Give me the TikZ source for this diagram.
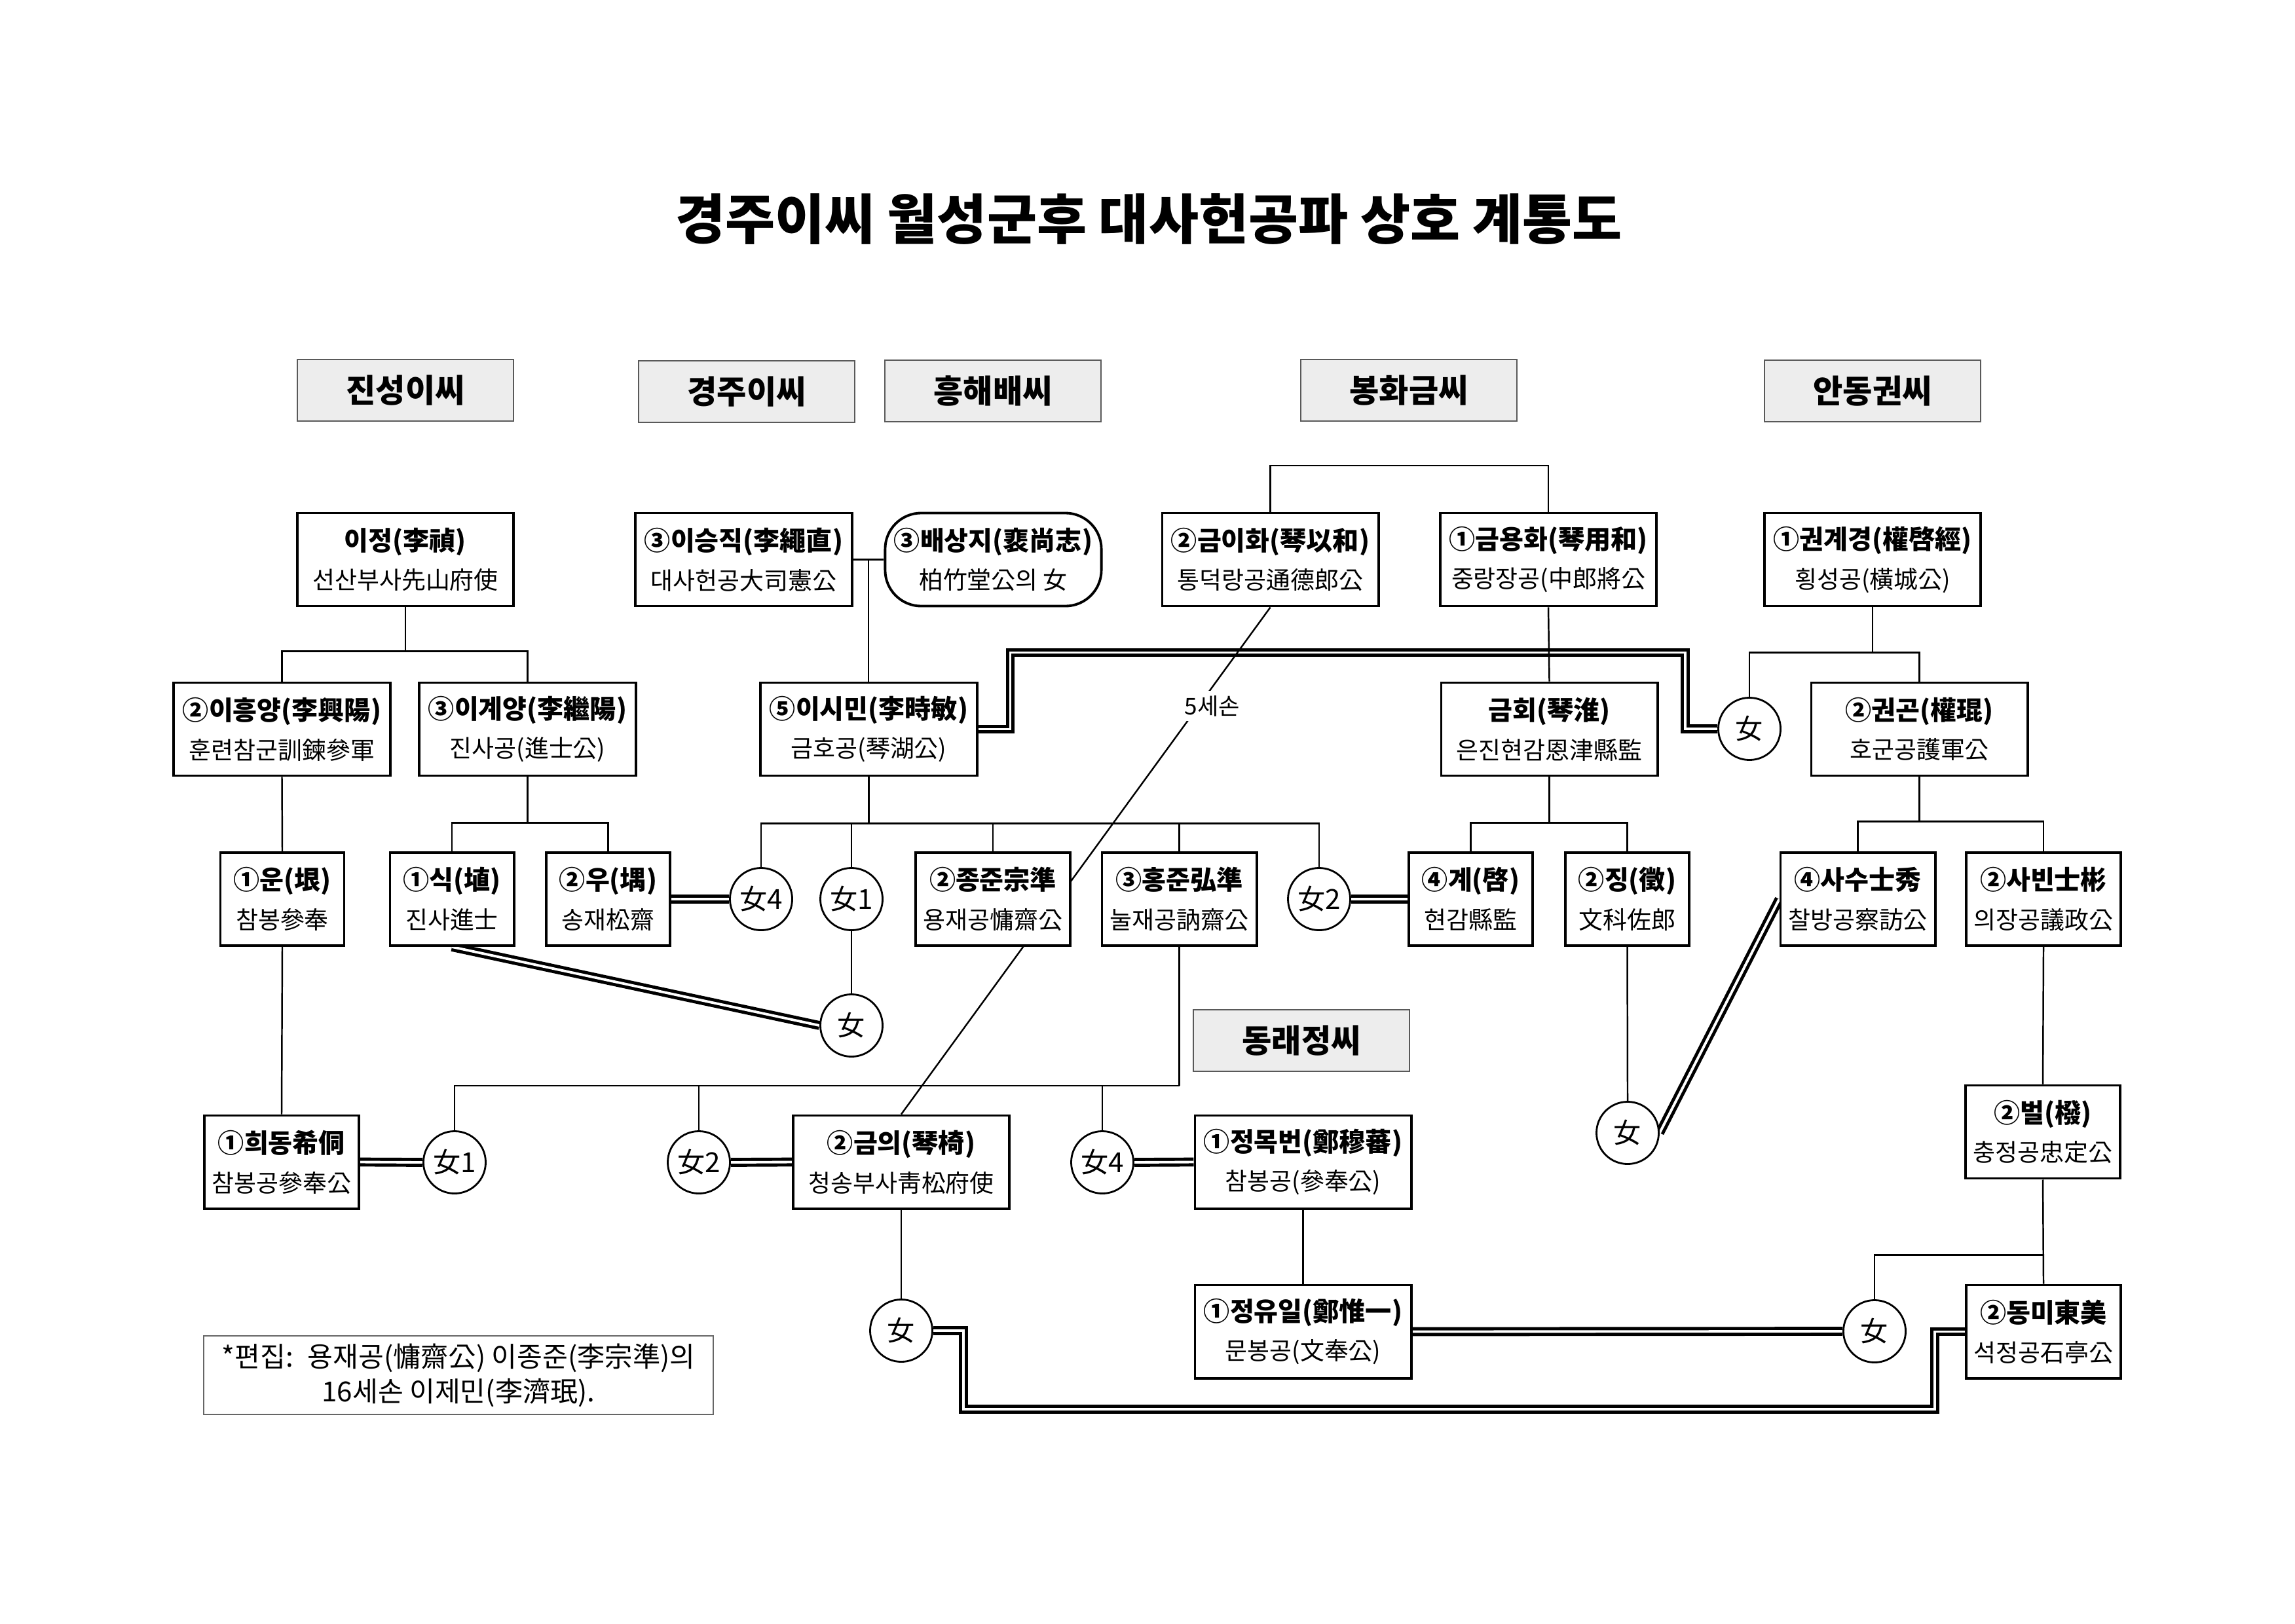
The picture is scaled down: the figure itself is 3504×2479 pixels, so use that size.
\documentclass[tikz,border=0pt]{standalone}
\usepackage{fontspec}
\setmainfont{Noto Sans CJK KR}
\usepackage{tikz}
\usetikzlibrary{positioning,calc,backgrounds}
\newcommand{\who}[2]{{\fontsize{11.4pt}{17pt}\selectfont\bfseries #1}\\{#2}}
\tikzset{
  person/.style={draw, line width=1.1pt, fill=white, align=center, inner sep=1pt,
    minimum height=1.42cm, font=\fontsize{10.5pt}{17pt}\selectfont},
  wide/.style={person, minimum width=3.3cm},
  mid/.style={person, minimum width=2.36cm},
  narrow/.style={person, minimum width=1.89cm},
  fem/.style={circle, draw, line width=0.8pt, fill=white, minimum size=0.95cm, inner sep=0pt,
    font=\fontsize{12pt}{14pt}\selectfont},
  clan/.style={draw=black!65, line width=0.6pt, fill=black!7, minimum width=3.3cm,
    minimum height=0.94cm, font=\fontsize{14pt}{16pt}\selectfont\bfseries},
  kin/.style={line width=0.7pt},
  wed/.style={double, line width=1.4pt, double distance=1.1pt},
  lbl/.style={fill=white, inner sep=2pt, font=\fontsize{10pt}{12pt}\selectfont},
}
\begin{document}
\begin{tikzpicture}[x=0.01cm, y=-0.01cm]
  \useasboundingbox (0,0) rectangle (3504,2479);
  % title
  \node[font=\fontsize{23.5pt}{28pt}\selectfont\bfseries] (title) at (1754,335) {경주이씨 월성군후 대사헌공파 상호 계통도};
  % clans
  \node[clan] (c-jinseong) at (619,596) {진성이씨};
  \node[clan] (c-gyeongju) at (1140,598) {경주이씨};
  \node[clan] (c-heunghae) at (1516,597) {흥해배씨};
  \node[clan] (c-bonghwa) at (2151,596) {봉화금씨};
  \node[clan] (c-andong) at (2859,597) {안동권씨};
  \node[clan] (c-dongnae) at (1987,1589) {동래정씨};
  % first row
  \node[wide] (yijeong) at (619,854.5) {\who{이정(李禎)}{선산부사先山府使}};
  \node[wide] (seungjik) at (1135.5,854.5) {\who{③이승직(李繩直)}{대사헌공大司憲公}};
  \node[wide, rounded corners=0.55cm] (baesangji) at (1516.5,854.5) {\who{③배상지(裵尚志)}{柏竹堂公의 女}};
  \node[wide] (geumihwa) at (1939.5,854.5) {\who{②금이화(琴以和)}{통덕랑공通德郎公}};
  \node[wide] (geumyonghwa) at (2364,854.5) {\who{①금용화(琴用和)}{중랑장공(中郎將公}};
  \node[wide] (gwongyegyeong) at (2859,854.5) {\who{①권계경(權啓經)}{횡성공(橫城公)}};
  % second row
  \node[wide] (heungyang) at (430.5,1113.5) {\who{②이흥양(李興陽)}{훈련참군訓鍊參軍}};
  \node[wide] (gyeyang) at (805.5,1113.5) {\who{③이계양(李繼陽)}{진사공(進士公)}};
  \node[wide] (simin) at (1326.5,1113.5) {\who{⑤이시민(李時敏)}{금호공(琴湖公)}};
  \node[wide] (geumhoe) at (2365.5,1113.5) {\who{금회(琴淮)}{은진현감恩津縣監}};
  \node[fem] (fem-k) at (2671,1113) {女};
  \node[wide] (gwongon) at (2930.5,1113.5) {\who{②권곤(權琨)}{호군공護軍公}};
  % third row
  \node[narrow] (un) at (431,1373) {\who{①운(垠)}{참봉參奉}};
  \node[narrow] (sik) at (690,1373) {\who{①식(埴)}{진사進士}};
  \node[narrow] (u) at (928.5,1373) {\who{②우(堣)}{송재松齋}};
  \node[fem] (fem-a4) at (1162,1373) {女4};
  \node[fem] (fem-a1) at (1300,1373) {女1};
  \node[mid] (jongjun) at (1516,1373) {\who{②종준宗準}{용재공慵齋公}};
  \node[mid] (hongjun) at (1800.5,1373) {\who{③홍준弘準}{눌재공訥齋公}};
  \node[fem] (fem-a2) at (2014,1373) {女2};
  \node[narrow] (gye) at (2245.5,1373) {\who{④계(啓)}{현감縣監}};
  \node[narrow] (jing) at (2484.5,1373) {\who{②징(徵)}{文科佐郎}};
  \node[mid] (sasu) at (2836.5,1373) {\who{④사수士秀}{찰방공察訪公}};
  \node[mid] (sabin) at (3120,1373) {\who{②사빈士彬}{의장공議政公}};
  \node[fem] (fem-s) at (1300,1566) {女};
  \node[fem] (fem-j) at (2485,1730) {女};
  % fourth row
  \node[mid] (huidong) at (430,1774.5) {\who{①희동希侗}{참봉공參奉公}};
  \node[fem] (fem-b1) at (694,1775) {女1};
  \node[fem] (fem-b2) at (1067,1775) {女2};
  \node[wide] (geumui) at (1376,1774.5) {\who{②금의(琴椅)}{청송부사靑松府使}};
  \node[fem] (fem-b4) at (1683,1775) {女4};
  \node[wide] (mokbeon) at (1989.5,1774.5) {\who{①정목번(鄭穆蕃)}{참봉공(參奉公)}};
  \node[mid] (beol) at (3119,1728.5) {\who{②벌(橃)}{충정공忠定公}};
  % fifth row
  \node[fem] (fem-g) at (1376,2032) {女};
  \node[wide] (yuil) at (1989.5,2033.5) {\who{①정유일(鄭惟一)}{문봉공(文奉公)}};
  \node[fem] (fem-y) at (2862,2033) {女};
  \node[mid] (dongmi) at (3120,2033.5) {\who{②동미東美}{석정공石亭公}};
  % note
  \node[draw=black!60, line width=0.6pt, minimum width=7.77cm, minimum height=1.2cm, align=center,
    font=\fontsize{12pt}{15pt}\selectfont] (note) at (700,2100) {*편집:~ 용재공(慵齋公) 이종준(李宗準)의\\16세손 이제민(李濟珉).};
  \node[lbl] (gen5) at (1851,1078) {5세손};
  \begin{scope}[on background layer]
    % marriages
    \draw[wed] (u.east) -- (fem-a4.west);
    \draw[wed] (fem-a2.east) -- (gye.west);
    \draw[wed] (sik.south) -- (fem-s.west);
    \draw[wed] (simin.east) -- ++(49,0) -- ++(0,-117) -| ($(fem-k.west)+(-49,0)$) -- (fem-k.west);
    \draw[wed] (fem-j.east) -- (sasu.west);
    \draw[wed] (huidong.east) -- (fem-b1.west);
    \draw[wed] (fem-b2.east) -- (geumui.west);
    \draw[wed] (fem-b4.east) -- (mokbeon.west);
    \draw[wed] (yuil.east) -- (fem-y.west);
    \draw[wed] (fem-g.east) -- ++(46,0) -- ++(0,120) -| ($(dongmi.west)+(-46,0)$) -- (dongmi.west);
    % descent
    \coordinate (bh-bar) at (2150,711);
    \draw[kin] (geumihwa.north) |- (bh-bar) -| (geumyonghwa.north);
    \draw[kin] (yijeong.south) -- ++(0,67) coordinate (jin-bar);
    \draw[kin] (heungyang.north) |- (jin-bar) -| (gyeyang.north);
    \draw[kin] (heungyang.south) -- (un.north);
    \draw[kin] (un.south) -- (huidong.north);
    \draw[kin] (gyeyang.south) -- ++(0,70) coordinate (gy-bar);
    \draw[kin] (sik.north) |- (gy-bar) -| (u.north);
    \draw[kin] (seungjik.east) -- coordinate (sj-mid) (baesangji.west);
    \draw[kin] (sj-mid) -- (sj-mid |- simin.north);
    \draw[kin] (simin.south) -- ++(0,71) coordinate (sm-bar);
    \draw[kin] (fem-a4.north) |- (sm-bar) -| (fem-a2.north);
    \foreach \kid in {fem-a1, jongjun, hongjun}
      \draw[kin] (\kid.north) -- (\kid.north |- sm-bar);
    \draw[kin] (fem-a1.south) -- (fem-s.north);
    \draw[kin] (geumyonghwa.south) -- (geumhoe.north);
    \draw[kin] (geumhoe.south) -- ++(0,70) coordinate (gh-bar);
    \draw[kin] (gye.north) |- (gh-bar) -| (jing.north);
    \draw[kin] (jing.south) -- (fem-j.north);
    \draw[kin] (gwongyegyeong.south) -- ++(0,69) coordinate (gk-bar);
    \draw[kin] (fem-k.north) |- (gk-bar) -| (gwongon.north);
    \draw[kin] (gwongon.south) -- ++(0,68) coordinate (gg-bar);
    \draw[kin] (sasu.north) |- (gg-bar) -| (sabin.north);
    \draw[kin] (sabin.south) -- (beol.north);
    \draw[kin] (beol.south) -- (dongmi.north);
    \path (beol.south) ++(0,115) coordinate (bl-bar);
    \draw[kin] (fem-y.north) |- (bl-bar);
    \draw[kin] (hongjun.south) -- ++(0,212) coordinate (hj-bar);
    \draw[kin] (fem-b1.north) |- (hj-bar);
    \foreach \kid in {fem-b2, fem-b4}
      \draw[kin] (\kid.north) -- (\kid.north |- hj-bar);
    \draw[kin] (geumui.south) -- (fem-g.north);
    \draw[kin] (mokbeon.south) -- (yuil.north);
    \draw[kin] (geumihwa.south) -- (geumui.north);
  \end{scope}
\end{tikzpicture}
\end{document}
